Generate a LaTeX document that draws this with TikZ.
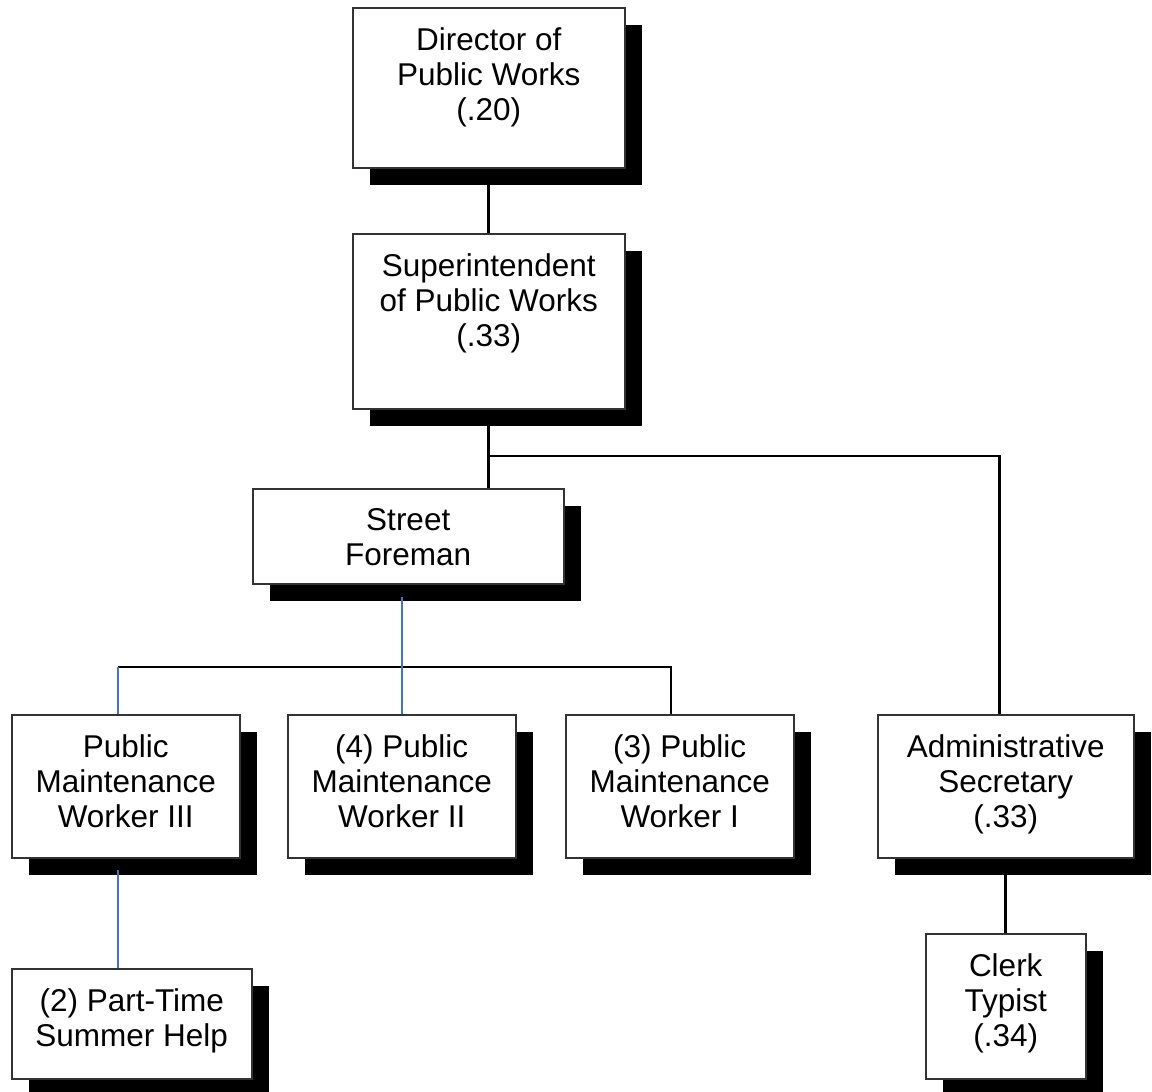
\documentclass[tikz,border=0pt]{standalone}
\usepackage{fontspec}
\setmainfont{Liberation Sans}
\usetikzlibrary{shadows}
\definecolor{linkblue}{RGB}{68,114,196}

\begin{document}
\begin{tikzpicture}[x=1pt, y=-1pt,
        post/.style={draw=black!80, line width=1.5pt, fill=white, anchor=north west, inner sep=0pt,
            drop shadow={shadow xshift=17pt, shadow yshift=-17pt, fill=black, opacity=1}},
        lbl/.style={anchor=north, align=center, inner sep=0pt, yshift=-20pt,
            font=\fontsize{31.5}{35}\selectfont},
        link/.style={line width=2.6pt},
        sublink/.style={line width=2pt, draw=linkblue}]
            \useasboundingbox[fill=white] (0,0) rectangle (1152,1092);

            \node[post, minimum width=272pt, minimum height=160pt,
                label={[lbl]north:{Director of\\Public Works\\(.20)}}] (dir) at (352,7) {};
            \node[post, minimum width=272pt, minimum height=175pt,
                label={[lbl]north:{Superintendent\\of Public Works\\(.33)}}] (sup) at (352,233) {};
            \node[post, minimum width=311pt, minimum height=95pt,
                label={[lbl]north:{Street\\Foreman}}] (sf) at (252,488) {};

            \foreach \x/\n/\t in {11/pm3/{Public\\Maintenance\\Worker III},
                    287/pm2/{(4) Public\\Maintenance\\Worker II},
                    565/pm1/{(3) Public\\Maintenance\\Worker I}}{
                \node[post, minimum width=228pt, minimum height=143pt,
                    label={[lbl]north:\t}] (\n) at (\x,714) {};
            }

            \node[post, minimum width=256pt, minimum height=143pt,
                label={[lbl]north:{Administrative\\Secretary\\(.33)}}] (adm) at (877,714) {};
            \node[post, minimum width=240pt, minimum height=110pt,
                label={[lbl]north:{(2) Part-Time\\Summer Help}}] (pt) at (11,968) {};
            \node[post, minimum width=160pt, minimum height=145pt,
                label={[lbl]north:{Clerk\\Typist\\(.34)}}] (clk) at (925,933) {};

            \coordinate (fork) at (487,456);
            \coordinate (barL) at (118,667);
            \coordinate (barR) at (671,667);

            \draw[link] (dir.south) -- (sup.north);
            \draw[link] (sup.south) -- (sup.south |- sf.north);
            \draw[link] (fork) -| ([xshift=-6pt]adm.north);
            \draw[link] (barL) -- (barR) -- (barR |- pm1.north);
            \draw[sublink] (barL) -- (barL |- pm3.north);
            \draw[sublink] (pm2.north) -- ++(0,-117);
            \draw[sublink] (barL |- pt.north) -- ++(0,-98);
            \draw[link] (adm.south) -- (clk.north);
        \end{tikzpicture}
\end{document}
